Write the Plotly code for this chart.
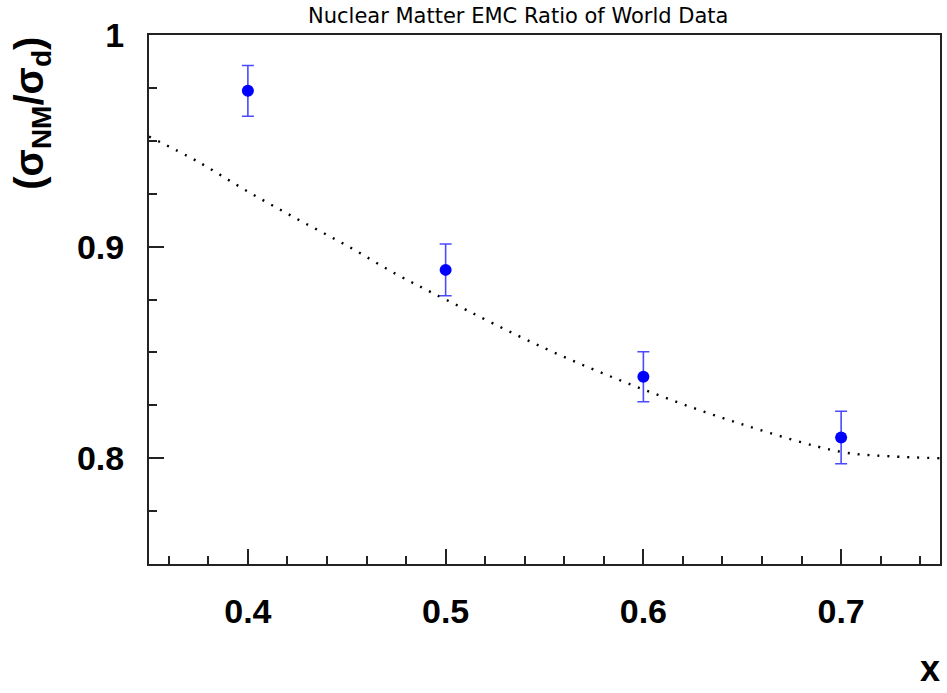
import plotly.graph_objects as go

# Data points (world data, nuclear matter EMC ratio)
x_data = [0.4, 0.5, 0.6, 0.7]
y_data = [0.9736, 0.8890, 0.8385, 0.8098]
y_err = [0.012, 0.0122, 0.0118, 0.0124]

# Dotted theory curve
x_curve = [0.35, 0.375, 0.40, 0.425, 0.45, 0.475, 0.50, 0.55, 0.60, 0.65, 0.70, 0.725, 0.75]
y_curve = [0.952, 0.940, 0.926, 0.913, 0.9005, 0.887, 0.875, 0.852, 0.8325, 0.816, 0.803, 0.8009, 0.800]

title_text = "Nuclear Matter EMC Ratio of World Data"
y_title = "<b>(σ<sub>NM</sub>/σ<sub>d</sub>)</b>"
x_title = "<b>x</b>"

W, H = 947, 693
L, R, T, B = 149, 5, 35, 129
PW, PH = W - L - R, H - T - B

fig = go.Figure()
fig.add_trace(go.Scatter(
    x=x_curve, y=y_curve, mode="lines",
    line=dict(color="black", width=2.4, dash="2px,8px", shape="spline"),
    showlegend=False, hoverinfo="skip"))
fig.add_trace(go.Scatter(
    x=x_data, y=y_data, mode="markers",
    marker=dict(color="#0000ff", size=12, symbol="circle"),
    error_y=dict(type="data", array=y_err, visible=True, color="#4a4aff", thickness=1.6, width=6),
    showlegend=False))

axis_common = dict(
    showgrid=False, zeroline=False,
    showline=True, linecolor="#222", linewidth=2, mirror=True,
    ticks="inside", ticklen=15, tickwidth=1.5, tickcolor="#222",
    tickfont=dict(family="Liberation Sans, Arial", size=34, color="black", weight="bold"),
)

fig.update_layout(
    width=W, height=H,
    margin=dict(l=L, r=R, t=T, b=B),
    paper_bgcolor="white", plot_bgcolor="white",
    xaxis=dict(range=[0.35, 0.75], tickvals=[0.4, 0.5, 0.6, 0.7], ticktext=["0.4", "0.5", "0.6", "0.7"],
               minor=dict(dtick=0.02, tick0=0, ticks="inside", ticklen=8, tickwidth=1.5, tickcolor="#222"),
               ticklabelstandoff=16, **axis_common),
    yaxis=dict(range=[0.75, 1.0], tickvals=[0.8, 0.9, 1.0], ticktext=["0.8", "0.9", "1"],
               minor=dict(dtick=0.025, tick0=0, ticks="inside", ticklen=8, tickwidth=1.5, tickcolor="#222"),
               ticklabelstandoff=16, **axis_common),
    annotations=[
        dict(text=title_text, xref="paper", yref="paper",
             x=(519 - L) / PW, y=1 + (35 - 16) / PH,
             xanchor="center", yanchor="middle", showarrow=False,
             font=dict(family="DejaVu Sans", size=21, color="black")),
        dict(text=y_title, xref="paper", yref="paper",
             x=(31 - L) / PW, y=1.0, xanchor="center", yanchor="top",
             textangle=-90, showarrow=False,
             font=dict(family="Liberation Sans, Arial", size=40, color="black")),
        dict(text=x_title, xref="paper", yref="paper",
             x=(932 - L) / PW, y=-(691 - (H - B)) / PH,
             xanchor="center", yanchor="bottom", showarrow=False,
             font=dict(family="Liberation Sans, Arial", size=36, color="black")),
    ],
)

fig.write_html("out.html")
